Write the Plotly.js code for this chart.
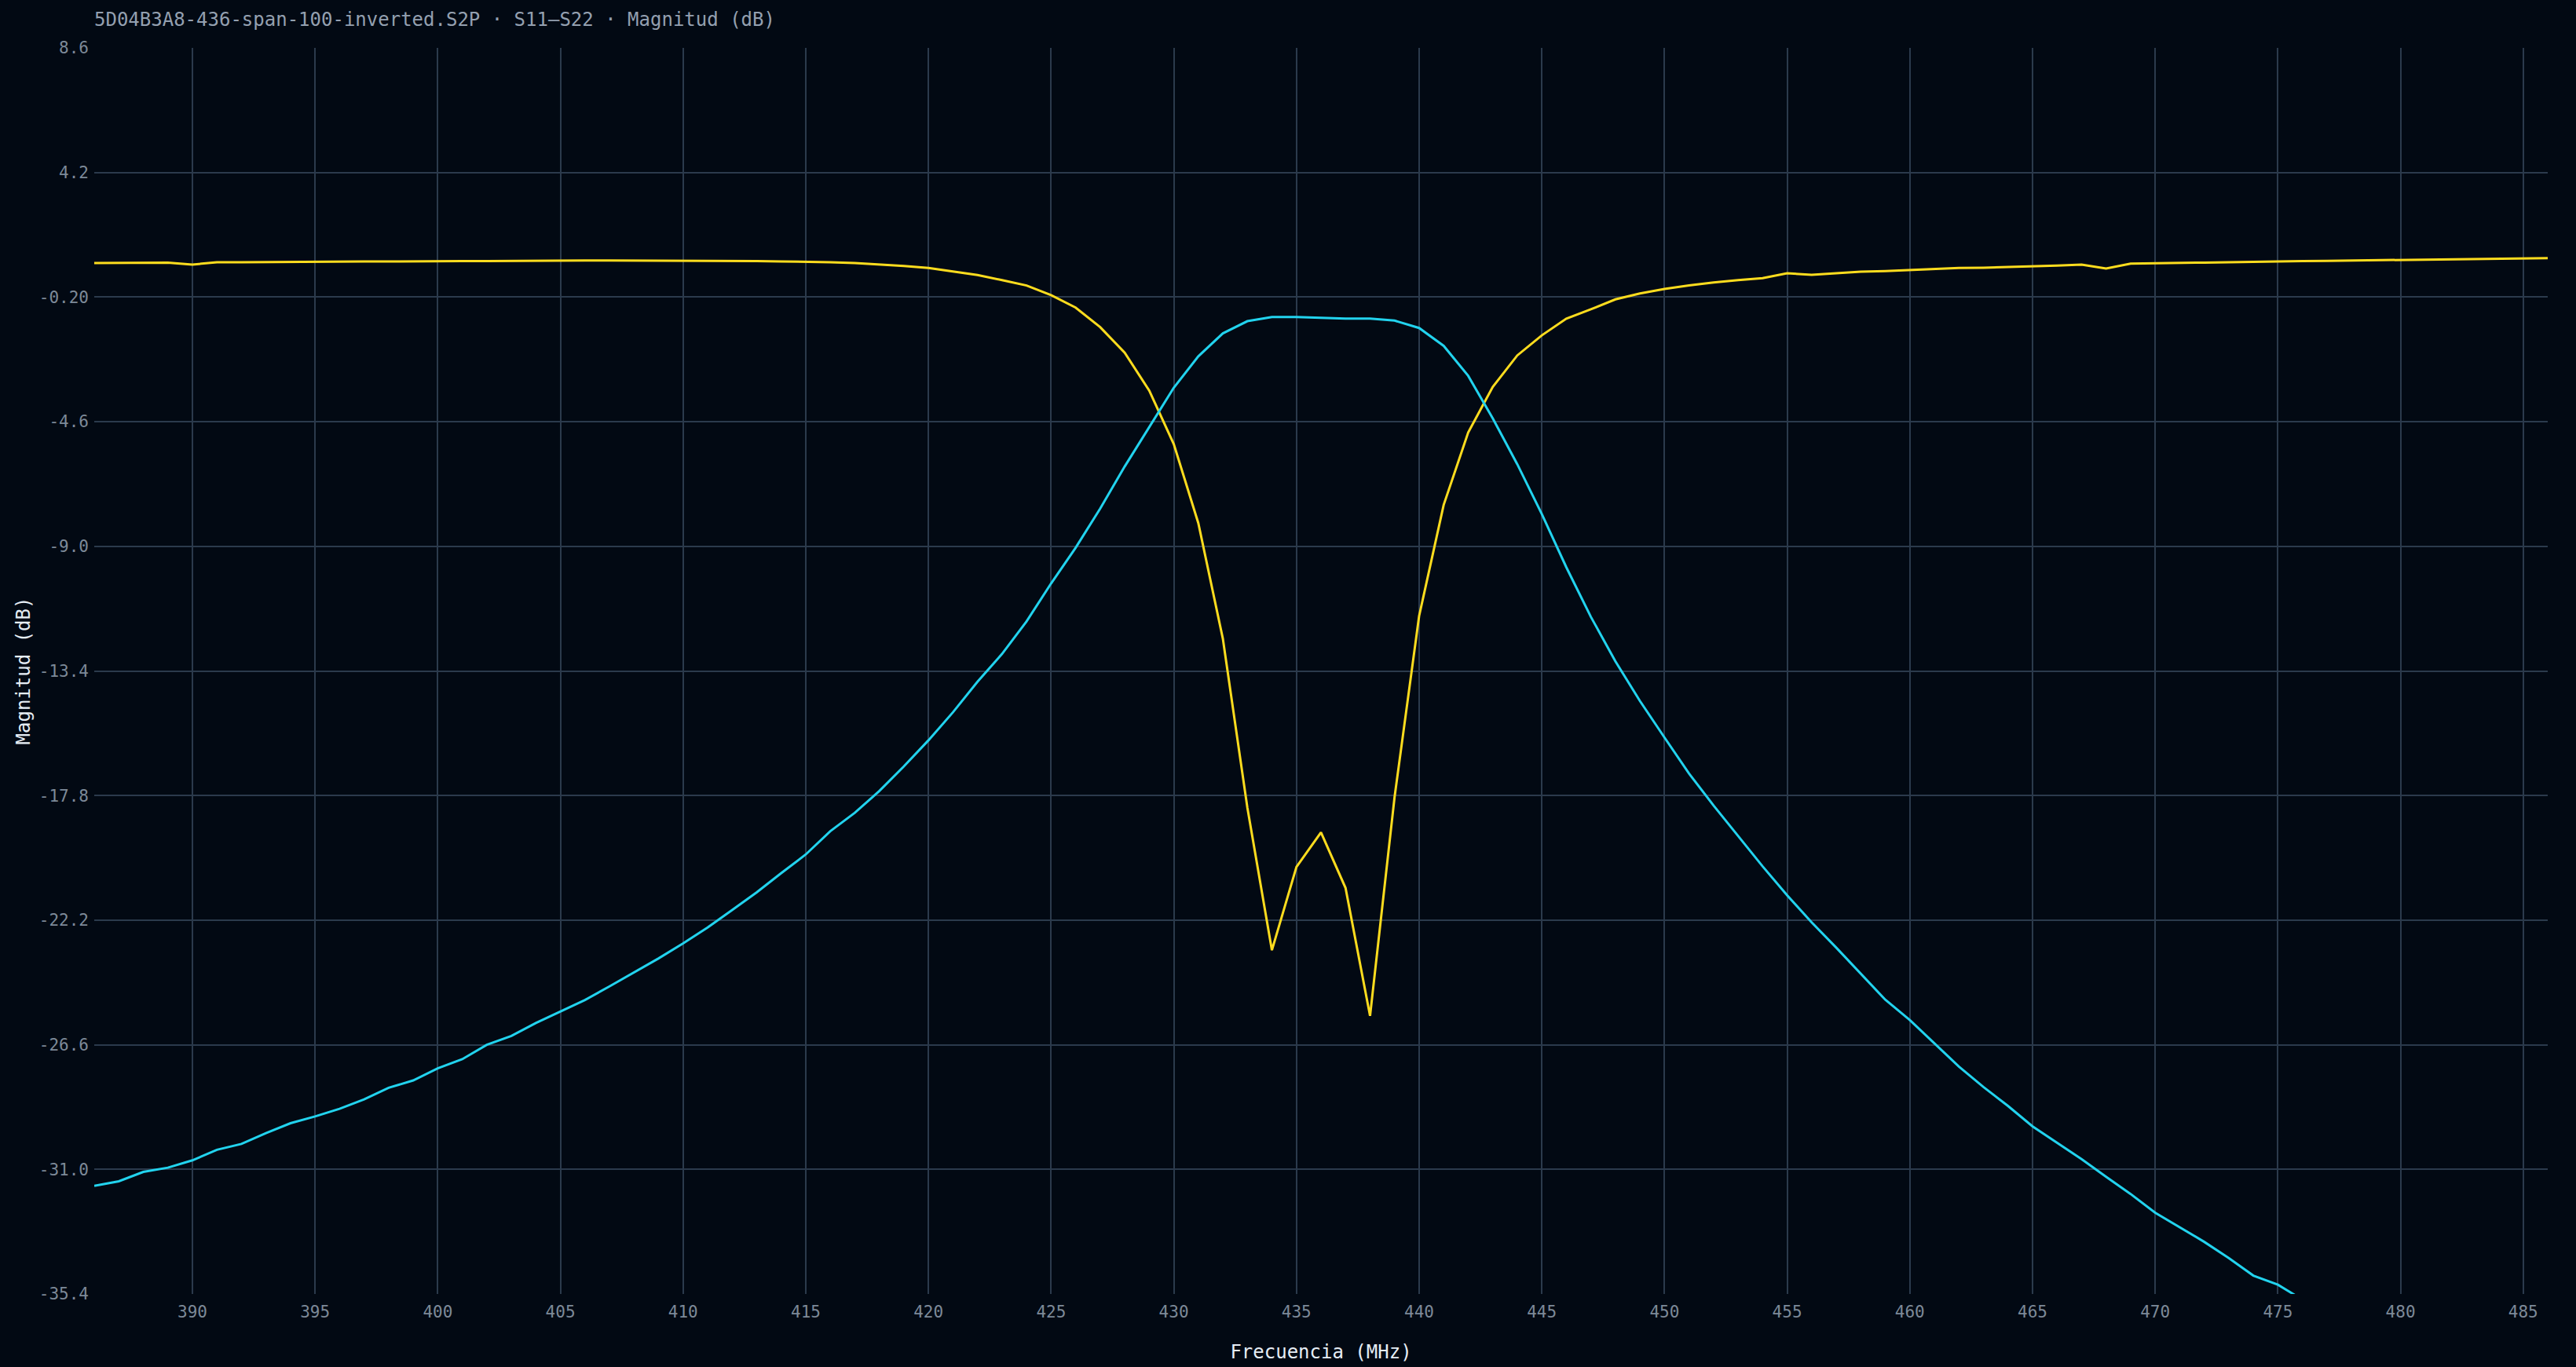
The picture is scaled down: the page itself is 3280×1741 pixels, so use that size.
<!DOCTYPE html>
<html>
<head>
<meta charset="utf-8">
<script src="https://cdn.plot.ly/plotly-3.0.1.min.js"></script>
<style>
  html, body { margin: 0; padding: 0; background: #020913; }
  #graph { width: 3280px; height: 1741px; }
</style>
</head>
<body>
<div id="graph"></div>
<script>
// frequency points (MHz), 1 MHz step
var freq = [];
for (var f = 386; f <= 486; f++) freq.push(f);

// yellow trace, dB
var s11 = [
  1.00, 1.00, 1.00, 1.02, 0.95, 1.03, 1.03, 1.04, 1.04, 1.05,
  1.05, 1.06, 1.06, 1.07, 1.07, 1.07, 1.07, 1.08, 1.08, 1.08,
  1.09, 1.09, 1.09, 1.09, 1.09, 1.08, 1.08, 1.07, 1.06, 1.05,
  1.03, 1.00, 0.96, 0.90, 0.83, 0.71, 0.58, 0.40, 0.21, -0.13,
  -0.57, -1.26, -2.16, -3.50, -5.39, -8.18, -12.26, -18.23, -23.26, -20.32,
  -19.10, -21.06, -25.58, -17.85, -11.46, -7.54, -4.98, -3.37, -2.26, -1.55,
  -0.96, -0.63, -0.28, -0.07, 0.09, 0.21, 0.32, 0.40, 0.47, 0.64,
  0.59, 0.64, 0.70, 0.72, 0.76, 0.80, 0.83, 0.84, 0.86, 0.88,
  0.91, 0.95, 0.81, 0.98, 1.00, 1.01, 1.02, 1.03, 1.05, 1.06,
  1.07, 1.08, 1.09, 1.10, 1.11, 1.12, 1.13, 1.14, 1.16, 1.18,
  1.18
];

// cyan trace, dB (goes below the axis after 476 MHz)
var s21 = [
  -31.58, -31.42, -31.09, -30.94, -30.68, -30.31, -30.10, -29.72, -29.37, -29.13,
  -28.86, -28.53, -28.12, -27.86, -27.43, -27.11, -26.60, -26.29, -25.83, -25.43,
  -25.02, -24.54, -24.05, -23.55, -23.02, -22.46, -21.84, -21.22, -20.54, -19.88,
  -19.06, -18.41, -17.64, -16.77, -15.85, -14.86, -13.78, -12.80, -11.65, -10.31,
  -9.05, -7.67, -6.18, -4.79, -3.40, -2.29, -1.48, -1.05, -0.90, -0.90,
  -0.94, -0.96, -0.96, -1.03, -1.29, -1.92, -2.98, -4.48, -6.10, -7.86,
  -9.74, -11.49, -13.06, -14.46, -15.75, -17.02, -18.15, -19.23, -20.30, -21.32,
  -22.28, -23.17, -24.09, -25.01, -25.73, -26.55, -27.37, -28.09, -28.76, -29.48,
  -30.07, -30.64, -31.26, -31.87, -32.53, -33.04, -33.56, -34.13, -34.75, -35.07,
  -35.60
];

var yTicks = [8.6, 4.2, -0.2, -4.6, -9.0, -13.4, -17.8, -22.2, -26.6, -31.0, -35.4];
var yTickText = ['8.6', '4.2', '-0.20', '-4.6', '-9.0', '-13.4', '-17.8', '-22.2', '-26.6', '-31.0', '-35.4'];
var xTicks = [390, 395, 400, 405, 410, 415, 420, 425, 430, 435, 440, 445, 450, 455, 460, 465, 470, 475, 480, 485];

var mono = 'DejaVu Sans Mono, monospace';

var trace1 = {
  type: 'scatter',
  mode: 'lines',
  name: 'S11',
  x: freq,
  y: s11,
  line: { color: '#fddc1e', width: 3 }
};

var trace2 = {
  type: 'scatter',
  mode: 'lines',
  name: 'S21',
  x: freq.slice(0, s21.length),
  y: s21,
  line: { color: '#22d3ee', width: 3 }
};

var layout = {
  width: 3280,
  height: 1741,
  paper_bgcolor: '#020913',
  plot_bgcolor: '#020913',
  showlegend: false,
  margin: { l: 120, r: 36, t: 61, b: 93 },
  font: { family: mono, size: 21, color: '#7d8998' },
  title: {
    text: '5D04B3A8-436-span-100-inverted.S2P · S11–S22 · Magnitud (dB)',
    font: { family: mono, size: 24, color: '#94a0b0' },
    x: 120 / 3280,
    xanchor: 'left',
    xref: 'container',
    y: 1 - 25 / 1741,
    yanchor: 'middle',
    yref: 'container'
  },
  xaxis: {
    range: [386, 486],
    tickvals: xTicks,
    showgrid: true,
    gridcolor: '#2b3a4c',
    gridwidth: 2,
    zeroline: false,
    showline: false,
    ticks: '',
    ticklabelstandoff: 8,
    tickfont: { family: mono, size: 21, color: '#7d8998' },
    title: {
      text: 'Frecuencia (MHz)',
      font: { family: mono, size: 24, color: '#e6edf5' },
      standoff: 31
    },
    automargin: false
  },
  yaxis: {
    range: [-35.4, 8.6],
    tickvals: yTicks,
    ticktext: yTickText,
    showgrid: true,
    gridcolor: '#2b3a4c',
    gridwidth: 2,
    zeroline: false,
    showline: false,
    ticks: '',
    ticklabelstandoff: 6,
    tickfont: { family: mono, size: 21, color: '#7d8998' },
    title: {
      text: 'Magnitud (dB)',
      font: { family: mono, size: 24, color: '#e6edf5' },
      standoff: 4
    },
    automargin: false
  }
};

Plotly.newPlot('graph', [trace1, trace2], layout, { displayModeBar: false, staticPlot: true });
</script>
</body>
</html>
